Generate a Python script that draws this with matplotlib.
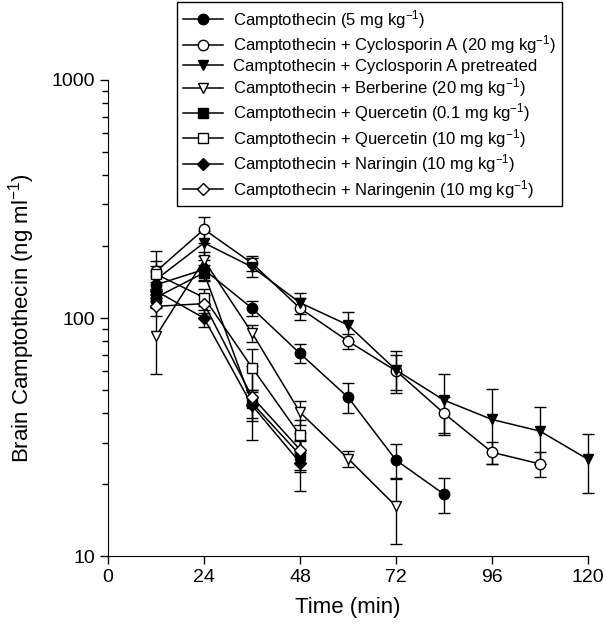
import matplotlib
matplotlib.use("Agg")
import matplotlib.pyplot as plt

plt.rcParams['font.family'] = ['Liberation Sans', 'DejaVu Sans']
plt.rcParams['mathtext.default'] = 'regular'

# time points (min)
t_cpt = [12, 24, 36, 48, 60, 72, 84]
t_csa = [12, 24, 36, 48, 60, 72, 84, 96, 108]
t_pre = [12, 24, 36, 48, 60, 72, 84, 96, 108, 120]
t_ber = [12, 24, 36, 48, 60, 72]
t_short = [12, 24, 36, 48]

# mean values (ng/ml) and SE
cpt = [138, 160, 110, 71, 46.5, 25.3, 18.2]
cpt_err = [12, 15, 8, 6.5, 6.7, 4.2, 3]
csa = [157, 236, 170, 110, 80, 60, 39.8, 27.3, 24.4]
csa_err = [35, 30, 12, 12, 6, 10, 7, 3, 3]
pre = [145, 207, 164, 116, 93.5, 60.5, 45.2, 37.5, 33.5, 25.5]
pre_err = [20, 25, 15, 12, 13, 12, 13, 13, 9, 7]
ber = [84, 175, 86.7, 40.2, 25.7, 16.2]
ber_err = [26, 15, 7, 4.7, 2, 5]
que01 = [122, 155, 44, 26.6]
que01_err = [10, 12, 6, 4]
que10 = [153, 122, 62, 32.2]
que10_err = [20, 10, 12, 5]
nar = [130, 100, 43, 24.7]
nar_err = [12, 8, 6, 6]
nrg = [112, 115, 46.7, 28]
nrg_err = [10, 10, 16, 5]

labels = ['Camptothecin (5 mg kg$^{-1}$)',
          'Camptothecin + Cyclosporin A (20 mg kg$^{-1}$)',
          'Camptothecin + Cyclosporin A pretreated',
          'Camptothecin + Berberine (20 mg kg$^{-1}$)',
          'Camptothecin + Quercetin (0.1 mg kg$^{-1}$)',
          'Camptothecin + Quercetin (10 mg kg$^{-1}$)',
          'Camptothecin + Naringin (10 mg kg$^{-1}$)',
          'Camptothecin + Naringenin (10 mg kg$^{-1}$)']

series = [
    (t_cpt, cpt, cpt_err, 'o', 'black'),
    (t_csa, csa, csa_err, 'o', 'white'),
    (t_pre, pre, pre_err, 'v', 'black'),
    (t_ber, ber, ber_err, 'v', 'white'),
    (t_short, que01, que01_err, 's', 'black'),
    (t_short, que10, que10_err, 's', 'white'),
    (t_short, nar, nar_err, 'D', 'black'),
    (t_short, nrg, nrg_err, 'D', 'white'),
]

fig = plt.figure(figsize=(6.05, 6.4), dpi=100)
ax = fig.add_axes([0.1785, 0.131, 0.7935, 0.744])

handles = []
for (t, y, e, m, fc), lab in zip(series, labels):
    ms = 6.5 if m == 'D' else 7.5
    h = ax.errorbar(t, y, yerr=e, marker=m, markersize=ms, color='black',
                    markerfacecolor=fc, markeredgecolor='black', linewidth=1.1,
                    elinewidth=1, capsize=4, capthick=1, label=lab)
    for art in h.lines[0:1] + h.lines[1] + h.lines[2]:
        art.set_clip_on(False)
    handles.append(h.lines[0])

ax.set_yscale('log')
ax.set_xlim(0, 120)
ax.set_ylim(10, 1000)
ax.set_xticks([0, 24, 48, 72, 96, 120])
ax.set_yticks([10, 100, 1000])
ax.set_yticklabels(['10', '100', '1000'])
ax.spines['top'].set_visible(False)
ax.spines['right'].set_visible(False)
ax.tick_params(direction='out', length=6, width=1, labelsize=14)
ax.tick_params(which='minor', direction='out', length=4, width=1)
ax.tick_params(axis='x', which='minor', bottom=False)

ax.set_xlabel('Time (min)', fontsize=16, labelpad=8)
ax.set_ylabel('Brain Camptothecin (ng ml$^{-1}$)', fontsize=16, labelpad=10)

leg = ax.legend(handles=handles, labels=labels, loc='upper left',
                bbox_to_anchor=(0.2926, 0.997), bbox_transform=fig.transFigure,
                fontsize=12, frameon=True,
                fancybox=False, edgecolor='black', framealpha=1,
                handlelength=2.4, borderpad=0.35, labelspacing=0.15,
                handletextpad=0.6, borderaxespad=0)
leg.get_frame().set_linewidth(1)

fig.savefig('out.png', dpi=100)
